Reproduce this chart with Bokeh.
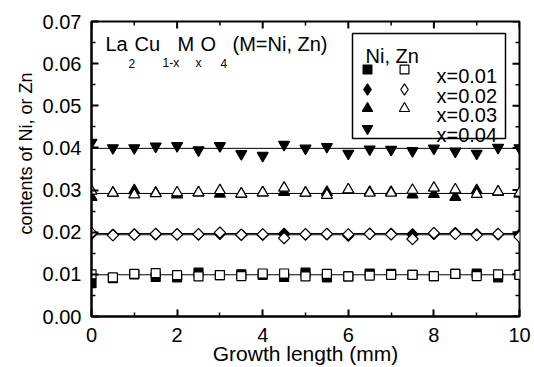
import numpy as np
from bokeh.plotting import figure
from bokeh.models import (LinearAxis, FixedTicker, Label, Legend, LegendItem, Title,
                          BoxAnnotation, NumeralTickFormatter)
from bokeh.embed import file_html
from bokeh.resources import INLINE

# ---------------- data ----------------
x_mm = [0, 0.5, 1, 1.5, 2, 2.5, 3, 3.5, 4, 4.5, 5, 5.5, 6, 6.5, 7, 7.5, 8, 8.5, 9, 9.5, 10]

ni_001 = [0.0079, 0.0091, 0.0100, 0.0094, 0.0093, 0.0104, 0.0098, 0.0100, 0.0099, 0.0094, 0.0104,
          0.0093, 0.0095, 0.0102, 0.0101, 0.0099, 0.0096, 0.0101, 0.0102, 0.0093, 0.0099]
zn_001 = [0.0100, 0.0093, 0.0101, 0.0103, 0.0098, 0.0095, 0.0098, 0.0096, 0.0102, 0.0102, 0.0095,
          0.0101, 0.0095, 0.0097, 0.0099, 0.0099, 0.0096, 0.0101, 0.0096, 0.0100, 0.0099]

ni_002 = [0.0196, 0.0194, 0.0195, 0.0195, 0.0195, 0.0195, 0.0196, 0.0194, 0.0194, 0.0196, 0.0195,
          0.0195, 0.0192, 0.0196, 0.0196, 0.0195, 0.0196, 0.0198, 0.0195, 0.0195, 0.0194]
zn_002 = [0.0198, 0.0193, 0.0194, 0.0196, 0.0195, 0.0195, 0.0199, 0.0194, 0.0195, 0.0186, 0.0195,
          0.0196, 0.0195, 0.0196, 0.0195, 0.0184, 0.0198, 0.0196, 0.0193, 0.0196, 0.0189]

ni_003 = [0.0283, 0.0293, 0.0299, 0.0293, 0.0289, 0.0294, 0.0291, 0.0291, 0.0294, 0.0295, 0.0293,
          0.0295, 0.0300, 0.0295, 0.0295, 0.0289, 0.0290, 0.0283, 0.0299, 0.0295, 0.0291]
zn_003 = [0.0298, 0.0293, 0.0289, 0.0292, 0.0294, 0.0294, 0.0299, 0.0291, 0.0294, 0.0305, 0.0293,
          0.0288, 0.0301, 0.0293, 0.0293, 0.0300, 0.0305, 0.0301, 0.0290, 0.0296, 0.0293]

ni_004 = [0.0413, 0.0400, 0.0400, 0.0404, 0.0405, 0.0395, 0.0405, 0.0386, 0.0382, 0.0408, 0.0399,
          0.0403, 0.0387, 0.0397, 0.0396, 0.0393, 0.0399, 0.0392, 0.0387, 0.0401, 0.0400]

fit_x = [0, 10]
fit_levels = [0.0099, 0.0194, 0.0197, 0.0292, 0.0399]

legend_labels = ["x=0.01", "x=0.02", "x=0.03", "x=0.04"]
x_major_ticks = [0, 2, 4, 6, 8, 10]
x_minor_ticks = [1, 3, 5, 7, 9]
y_major_ticks = [0.00, 0.01, 0.02, 0.03, 0.04, 0.05, 0.06, 0.07]
y_minor_ticks = [0.005, 0.015, 0.025, 0.035, 0.045, 0.055, 0.065]
X_MIN, X_MAX = 0, 10
Y_MIN, Y_MAX = 0, 0.07

# ---------------- layout ----------------
FONT = "Liberation Sans"
W, H = 534, 367
ML, MR, MT, MB = 91, 15, 21, 51
FL = ML              # frame left (page px)
FB = H - MB          # frame bottom (page px)
FRAME_W = W - ML - MR
FRAME_H = H - MT - MB


def fx(px):
    return px - FL


def fy(py):
    return FB - py


p = figure(width=W, height=H, x_range=(X_MIN, X_MAX), y_range=(Y_MIN, Y_MAX),
           output_backend="svg", toolbar_location=None,
           x_axis_location=None, y_axis_location=None,
           min_border_left=ML, min_border_right=MR, min_border_top=MT, min_border_bottom=MB)
p.grid.grid_line_color = None
p.outline_line_color = "black"
p.outline_line_width = 2
p.background_fill_color = "white"
p.border_fill_color = "white"


def style_axis(ax):
    ax.axis_line_width = 2
    ax.axis_line_color = "black"
    ax.major_tick_in = 7
    ax.major_tick_out = 0
    ax.minor_tick_in = 4
    ax.minor_tick_out = 0
    ax.major_tick_line_width = 2
    ax.minor_tick_line_width = 1.5
    ax.major_label_text_font = FONT
    ax.major_label_text_color = "black"
    ax.major_label_text_font_size = "20px"
    ax.axis_label_text_font = FONT
    ax.axis_label_text_font_size = "21px"
    ax.axis_label_text_font_style = "normal"
    ax.axis_label_text_color = "black"


xb = LinearAxis(ticker=FixedTicker(ticks=x_major_ticks, minor_ticks=x_minor_ticks))
style_axis(xb)
xb.major_label_standoff = 11
xb.axis_label = "Growth length (mm)"
xb.axis_label_standoff = -3
p.add_layout(xb, "below")

yl = LinearAxis(ticker=FixedTicker(ticks=y_major_ticks, minor_ticks=y_minor_ticks),
                formatter=NumeralTickFormatter(format="0.00"))
style_axis(yl)
yl.major_label_standoff = 10
p.add_layout(yl, "left")

# y axis title: its top end sits ~51 px below the frame top, as in the reference
p.add_layout(Title(text="contents of Ni, or Zn", align="right", offset=51, standoff=6,
                   vertical_align="middle",
                   text_font=FONT, text_font_size="18px", text_font_style="normal",
                   text_color="black"), "left")

# empty outer spacer (no ticks, no labels) that pushes the y title away from the edge
spacer = LinearAxis(ticker=FixedTicker(ticks=[], minor_ticks=[]))
spacer.axis_line_color = None
spacer.major_tick_line_color = None
spacer.minor_tick_line_color = None
spacer.major_tick_in = 0
spacer.major_tick_out = 11
spacer.minor_tick_out = 0
spacer.major_label_standoff = 0
p.add_layout(spacer, "left")

# inward ticks on the top and right frame edges
tick_dx = (X_MAX - X_MIN) / FRAME_W
tick_dy = (Y_MAX - Y_MIN) / FRAME_H
for ticks, ln, lw in ((x_major_ticks, 7, 2), (x_minor_ticks, 4, 1.5)):
    p.segment(x0=ticks, y0=[Y_MAX] * len(ticks), x1=ticks, y1=[Y_MAX - ln * tick_dy] * len(ticks),
              line_color="black", line_width=lw)
for ticks, ln, lw in ((y_major_ticks, 7, 2), (y_minor_ticks, 4, 1.5)):
    p.segment(x0=[X_MAX] * len(ticks), y0=ticks, x1=[X_MAX - ln * tick_dx] * len(ticks), y1=ticks,
              line_color="black", line_width=lw)

# ---------------- fit lines ----------------
for lv in fit_levels:
    p.line(fit_x, [lv, lv], line_color="black", line_width=1)

# ---------------- data markers ----------------
MK = dict(line_color="black", line_width=1.2)
r_ni1 = p.scatter(x_mm, ni_001, marker="square", size=9, fill_color="black", **MK)
r_zn1 = p.scatter(x_mm, zn_001, marker="square", size=9, fill_color="white", **MK)
r_ni2 = p.scatter(x_mm, ni_002, marker="square", size=8, angle=np.pi / 4, fill_color="black", **MK)
r_zn2 = p.scatter(x_mm, zn_002, marker="square", size=8, angle=np.pi / 4, fill_color="white", **MK)
r_ni3 = p.scatter(x_mm, ni_003, marker="triangle", size=11, fill_color="black", **MK)
r_zn3 = p.scatter(x_mm, zn_003, marker="triangle", size=11, fill_color="white", **MK)
r_ni4 = p.scatter(x_mm, ni_004, marker="inverted_triangle", size=11, fill_color="black", **MK)

# legend-only diamond glyphs (no visible data)
d_ni2 = p.scatter([np.nan], [np.nan], marker="diamond", fill_color="black", **MK)
d_zn2 = p.scatter([np.nan], [np.nan], marker="diamond", fill_color="white", **MK)

# ---------------- legend ----------------
p.add_layout(BoxAnnotation(left=fx(352), right=fx(505), top=fy(33), bottom=fy(138),
                           left_units="screen", right_units="screen",
                           top_units="screen", bottom_units="screen",
                           fill_color="white", fill_alpha=1.0,
                           line_color="black", line_width=1.5, line_alpha=1.0))

row_y = [69, 88.5, 108, 127.5]
col_filled = 367
col_open = 404
keys = [
    (r_ni1, col_filled, row_y[0], 22), (r_zn1, col_open, row_y[0], 22),
    (d_ni2, col_filled, row_y[1], 28), (d_zn2, col_open, row_y[1], 28),
    (r_ni3, col_filled, row_y[2], 26), (r_zn3, col_open, row_y[2], 26),
    (r_ni4, col_filled, row_y[3], 26),
]
for rend, cx, cy, box in keys:
    lg = Legend(items=[LegendItem(label=" ", renderers=[rend])],
                location=(fx(cx) - box / 2, fy(cy) - box / 2),
                glyph_width=box, glyph_height=box, padding=0, margin=0, spacing=0,
                label_standoff=0, label_width=0, label_height=0,
                label_text_font_size="1px", border_line_color=None,
                background_fill_alpha=0)
    p.add_layout(lg)

p.add_layout(Label(x=fx(365), y=fy(55), x_units="screen", y_units="screen", text="Ni, Zn",
                   text_font=FONT, text_font_size="20px", text_color="black",
                   text_baseline="alphabetic"))
for lab, cy in zip(legend_labels, row_y):
    p.add_layout(Label(x=fx(436), y=fy(cy + 6.5), x_units="screen", y_units="screen", text=lab,
                       text_font=FONT, text_font_size="20px", text_color="black",
                       text_baseline="alphabetic"))

# ---------------- formula title ----------------
MAIN_BASE = 43.5
SUB_BASE = 62.5
pieces = [("La", 105, False), ("2", 128, True), ("Cu", 134, False), ("1-x", 162, True),
          ("M", 177, False), ("x", 195, True), ("O", 200, False), ("4", 220, True),
          ("(M=Ni, Zn)", 232, False)]
for txt, px, sub in pieces:
    p.add_layout(Label(x=fx(px), y=fy(SUB_BASE if sub else MAIN_BASE),
                       x_units="screen", y_units="screen", text=txt,
                       text_font=FONT, text_font_size="12px" if sub else "20px",
                       text_color="black", text_baseline="alphabetic"))

open("out.html", "w").write(file_html(p, INLINE))
